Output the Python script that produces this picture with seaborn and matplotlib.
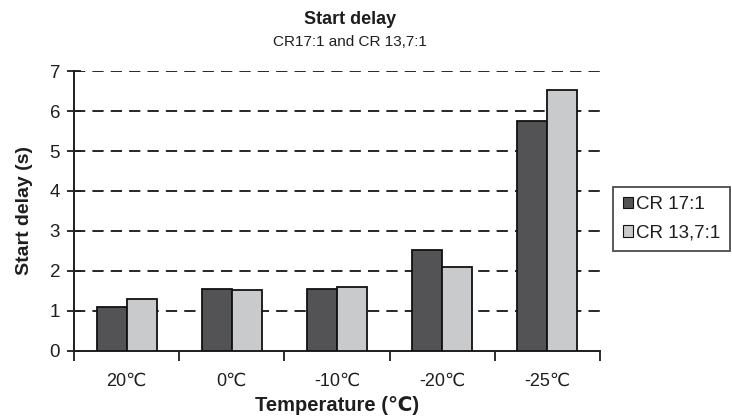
import matplotlib
matplotlib.use("Agg")
import matplotlib.pyplot as plt
import seaborn as sns
import pandas as pd
from matplotlib.patches import Patch

categories = ["20\u2103", "0\u2103", "-10\u2103", "-20\u2103", "-25\u2103"]
series_names = ["CR 17:1", "CR 13,7:1"]
cr17 = [1.09, 1.56, 1.56, 2.52, 5.74]
cr137 = [1.29, 1.52, 1.61, 2.09, 6.53]
yticks = [0, 1, 2, 3, 4, 5, 6, 7]

df = pd.DataFrame({
    "Temperature": categories * 2,
    "Series": [series_names[0]] * len(categories) + [series_names[1]] * len(categories),
    "Start delay": cr17 + cr137,
})

sns.set_theme(style="white")
plt.rcParams['font.family'] = ['Liberation Sans', 'DejaVu Sans']

dark = "#535356"
light = "#c9cacc"
ink = "#1e1e1e"

fig = plt.figure(figsize=(7.32, 4.16), dpi=100)
ax = fig.add_axes([0.101, 0.1563, 0.7186, 0.673])

sns.barplot(data=df, x="Temperature", y="Start delay", hue="Series",
            order=categories, hue_order=series_names,
            palette=[dark, light], width=0.57, gap=0, ax=ax,
            edgecolor="#111111", linewidth=1.3, legend=False, errorbar=None,
            zorder=3)

ax.set_xlim(-0.5, len(categories) - 0.5)
ax.set_ylim(0, 7)
ax.set_yticks(yticks)
ax.set_yticklabels([str(t) for t in yticks], fontsize=13.5)
for t in yticks[1:]:
    ax.axhline(t, color=ink, linestyle=(0, (6, 3.8)), linewidth=1.35, zorder=1)

ax.set_xticks(range(len(categories)))
ax.set_xticklabels(categories, fontsize=13)
ax.tick_params(axis="x", which="major", length=0, pad=16)
ax.set_xticks([i - 0.5 for i in range(len(categories) + 1)], minor=True)
ax.tick_params(axis="x", which="minor", length=7, width=1.3, color=ink, direction="out", bottom=True)
ax.tick_params(axis="y", which="major", length=10, width=1.3, color=ink, direction="inout", left=True, pad=5)

for s in ["top", "right"]:
    ax.spines[s].set_visible(False)
for s in ["left", "bottom"]:
    ax.spines[s].set_color(ink)
    ax.spines[s].set_linewidth(1.4)

ax.set_xlabel("Temperature (\u2103)", fontsize=14.5, fontweight="bold", labelpad=4, color=ink)
ax.set_ylabel("Start delay (s)", fontsize=14, fontweight="bold", labelpad=12, color=ink)

fig.text(0.478, 0.953, "Start delay", ha="center", va="center", fontsize=13, fontweight="bold", color=ink)
fig.text(0.478, 0.900, "CR17:1 and CR 13,7:1", ha="center", va="center", fontsize=11, color=ink)

handles = [Patch(facecolor=dark, edgecolor="#111111", linewidth=0.8),
           Patch(facecolor=light, edgecolor="#111111", linewidth=0.8)]
leg = fig.legend(handles, series_names, loc="upper left", bbox_to_anchor=(0.838, 0.5505),
                 frameon=True, fontsize=13.5, handlelength=0.55, handleheight=0.55,
                 handletextpad=0.15, borderpad=0.5, labelspacing=0.6, borderaxespad=0)
leg.get_frame().set_edgecolor(ink)
leg.get_frame().set_linewidth(1.3)
leg.get_frame().set_boxstyle("square", pad=0)
for t in leg.get_texts():
    t.set_color(ink)

for t in ax.get_xticklabels() + ax.get_yticklabels():
    t.set_color(ink)

fig.savefig("out.png", dpi=100)
